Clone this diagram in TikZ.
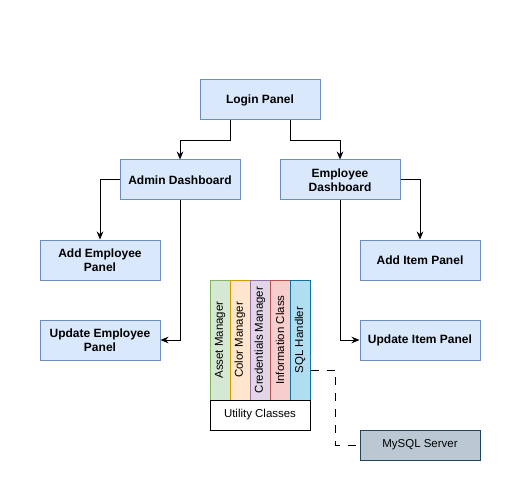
\documentclass[tikz,border=0pt]{standalone}
\usepackage{fontspec}
\setmainfont{Liberation Sans}
\usetikzlibrary{arrows.meta}
\definecolor{panelfill}{HTML}{DAE8FC}
\definecolor{panelline}{HTML}{6C8EBF}
\definecolor{greenfill}{HTML}{D5E8D4}
\definecolor{greenline}{HTML}{82B366}
\definecolor{orangefill}{HTML}{FFE6CC}
\definecolor{orangeline}{HTML}{D79B00}
\definecolor{purplefill}{HTML}{E1D5E7}
\definecolor{purpleline}{HTML}{9673A6}
\definecolor{redfill}{HTML}{F8CECC}
\definecolor{redline}{HTML}{B85450}
\definecolor{sqlfill}{HTML}{B1DDF0}
\definecolor{sqlline}{HTML}{10739E}
\definecolor{serverfill}{HTML}{BAC8D3}
\definecolor{serverline}{HTML}{23445D}
\begin{document}
\begin{tikzpicture}[x=0.75pt,y=-0.75pt,line width=0.75pt,
    panel/.style={draw=panelline,fill=panelfill,minimum width=90pt,minimum height=30pt,
      align=center,inner sep=1pt,font=\bfseries\fontsize{9}{10.5}\selectfont},
    util/.style n args={2}{draw=#1,fill=#2,rotate=90,minimum width=90pt,minimum height=15pt,
      inner sep=0pt,font=\fontsize{8.6}{10}\selectfont},
    link/.style={-{Stealth[length=6pt,width=5pt]}}]
  \useasboundingbox (0,0) rectangle (521,481);
  % panels
  \node[panel] (login) at (260,100) {Login Panel};
  \node[panel] (admin) at (180,180) {Admin Dashboard};
  \node[panel] (empdash) at (340,180) {Employee\\Dashboard};
  \node[panel] (addemp) at (100,260) {Add Employee\\Panel};
  \node[panel] (updemp) at (100,340) {Update Employee\\Panel};
  \node[panel] (additem) at (420,260) {Add Item Panel};
  \node[panel] (upditem) at (420,340) {Update Item Panel};
  % utility classes
  \node[util={greenline}{greenfill}] (asset) at (220,340) {Asset Manager};
  \node[util={orangeline}{orangefill}] (color) at (240,340) {Color Manager};
  \node[util={purpleline}{purplefill}] (cred) at (260,340) {Credentials Manager};
  \node[util={redline}{redfill}] (info) at (280,340) {Information Class};
  \node[util={sqlline}{sqlfill}] (sql) at (300,340) {SQL Handler};
  \node[draw,minimum width=75pt,minimum height=22.5pt,inner sep=0pt,
    font=\fontsize{8.6}{10}\selectfont] (utility) at (260,415) {Utility Classes};
  \node[draw=serverline,fill=serverfill,minimum width=90pt,minimum height=22.5pt,
    inner sep=0pt,font=\fontsize{8.6}{10}\selectfont] (mysql) at (420,445) {MySQL Server};
  % connectors
  \draw[link] ([xshift=-22.5pt]login.south) -- ++(0,20) -| (admin.north);
  \draw[link] ([xshift=22.5pt]login.south) -- ++(0,20) -| (empdash.north);
  \draw[link] (admin.west) -| (addemp.north);
  \draw[link] (admin.south) |- (updemp.east);
  \draw[link] (empdash.east) -| (additem.north);
  \draw[link] (empdash.south) |- (upditem.west);
  \draw[dashed,dash pattern=on 6pt off 6pt] ([yshift=-22.5pt]sql.south) -- ++(25,0) |- (mysql.west);
\end{tikzpicture}
\end{document}
